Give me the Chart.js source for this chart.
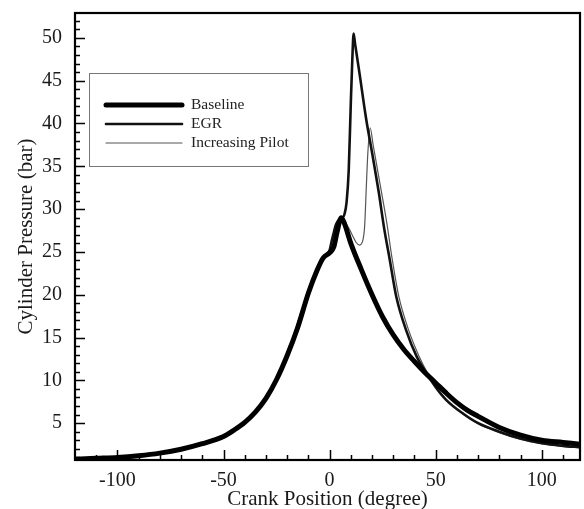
<!DOCTYPE html>
<html>
<head>
<meta charset="utf-8">
<script src="https://cdn.jsdelivr.net/npm/chart.js@4.4.0/dist/chart.umd.min.js"></script>
<style>
  html, body { margin: 0; padding: 0; background: #fff; }
  #wrap { width: 584px; height: 509px; position: relative; }
</style>
</head>
<body>
<div id="wrap"><canvas id="grafico"></canvas></div>
<script>
// crank angle (degree) and cylinder pressure (bar)
const crankBase = [-120, -110, -100, -90, -80, -70, -60, -50, -45, -40, -35, -30, -25, -20, -15, -10, -6, -3, 0, 2, 3.5, 5.5, 7, 10, 15, 20, 25, 30, 35, 40, 45, 50, 55, 60, 65, 70, 80, 90, 100, 110, 118];
const pressureBase = [0.8, 0.9, 1.0, 1.2, 1.5, 1.95, 2.6, 3.45, 4.2, 5.1, 6.3, 7.9, 10.1, 12.9, 16.2, 20.2, 22.8, 24.3, 24.9, 25.6, 27.3, 29.0, 28.3, 26.0, 22.9, 20.0, 17.4, 15.3, 13.6, 12.2, 10.9, 9.7, 8.5, 7.4, 6.5, 5.8, 4.5, 3.6, 3.0, 2.75, 2.55];

const crankEgr = [-120, -100, -80, -60, -50, -40, -30, -20, -10, -3, 0, 1, 2, 3, 4.5, 6, 7, 8, 9, 10, 10.7, 11.3, 12, 14, 17.3, 20, 23.2, 25.8, 28.2, 31.4, 36, 41, 46, 50, 55, 63, 70, 80, 90, 100, 110, 118];
const pressureEgr = [0.8, 1.0, 1.5, 2.6, 3.45, 5.1, 7.9, 12.9, 20.2, 24.3, 25.2, 26.3, 27.3, 28.2, 28.8, 29.0, 29.4, 30.8, 34.5, 42.5, 47.5, 50.5, 49.3, 46.0, 40.4, 36.6, 31.9, 27.6, 24.3, 19.8, 15.9, 12.8, 10.7, 9.2, 7.7, 6.1, 5.0, 4.0, 3.2, 2.65, 2.35, 2.2];

const crankPilot = [-120, -100, -80, -60, -50, -40, -30, -20, -10, -3, 0, 1, 2, 3, 4.5, 6.3, 8, 9.4, 11, 12.5, 14.1, 15.7, 16.5, 17.3, 18, 19.1, 20.5, 22, 25, 27, 29.4, 32.6, 37.2, 42.2, 46.5, 50, 55, 63, 70, 80, 90, 100, 110, 118];
const pressurePilot = [0.8, 1.0, 1.5, 2.6, 3.45, 5.1, 7.9, 12.9, 20.2, 24.3, 25.2, 26.3, 27.3, 28.2, 28.8, 29.0, 28.2, 27.6, 26.8, 26.1, 25.8, 26.4, 28.0, 32.6, 36.5, 39.5, 37.5, 35.4, 31.2, 28.3, 24.3, 19.8, 15.9, 12.8, 10.7, 9.3, 7.75, 6.05, 4.95, 3.9, 3.1, 2.6, 2.3, 2.1];

const xTicks = [-100, -50, 0, 50, 100];
const yTicks = [5, 10, 15, 20, 25, 30, 35, 40, 45, 50];

const xMinor = [];
for (let v = -110; v <= 110; v += 10) xMinor.push(v);
const yMinor = [];
for (let v = 1; v <= 52; v++) yMinor.push(v);

const pontos = (xs, ys) => xs.map((x, i) => ({ x: x, y: ys[i] }));

Chart.defaults.font.family = "'Liberation Serif', 'Times New Roman', serif";
Chart.defaults.color = "#1a1a1a";

// frame, inward ticks and the boxed legend
const moldura = {
    id: "moldura",
    afterDraw(chart) {
        const ctx = chart.ctx;
        const a = chart.chartArea;
        const sx = chart.scales.x, sy = chart.scales.y;
        ctx.save();
        ctx.strokeStyle = "#000";
        ctx.lineWidth = 1.5;
        ctx.beginPath();
        xMinor.forEach(v => {
            const px = Math.round(sx.getPixelForValue(v)) + 0.5;
            const len = xTicks.includes(v) ? 10 : 5;
            ctx.moveTo(px, a.bottom);
            ctx.lineTo(px, a.bottom - len);
        });
        yMinor.forEach(v => {
            const py = Math.round(sy.getPixelForValue(v)) + 0.5;
            const len = yTicks.includes(v) ? 10 : 5;
            ctx.moveTo(a.left, py);
            ctx.lineTo(a.left + len, py);
        });
        ctx.stroke();

        ctx.lineWidth = 2.2;
        ctx.strokeRect(a.left, a.top, a.right - a.left, a.bottom - a.top);

        // legend
        const lx = a.left + 14, ly = a.top + 60;
        ctx.fillStyle = "#fff";
        ctx.fillRect(lx, ly, 219, 93);
        ctx.lineWidth = 1;
        ctx.strokeStyle = "#777";
        ctx.strokeRect(lx + 0.5, ly + 0.5, 219, 93);
        ctx.font = "15.5px 'Liberation Serif', serif";
        ctx.textBaseline = "middle";
        ctx.fillStyle = "#222";
        chart.data.datasets.forEach((ds, i) => {
            const yy = ly + 32 + i * 19;
            ctx.beginPath();
            ctx.lineCap = "round";
            ctx.strokeStyle = ds.borderColor;
            ctx.lineWidth = ds.borderWidth;
            ctx.moveTo(lx + 17, yy);
            ctx.lineTo(lx + 93, yy);
            ctx.stroke();
            ctx.fillText(ds.label, lx + 102, yy);
        });
        ctx.restore();
    }
};

const ctx = document.getElementById("grafico").getContext("2d");
const grafico = new Chart(ctx, {
    type: "line",
    data: {
        datasets: [{
            label: "Baseline",
            data: pontos(crankBase, pressureBase),
            borderColor: "#000",
            borderWidth: 5
        }, {
            label: "EGR",
            data: pontos(crankEgr, pressureEgr),
            borderColor: "#111",
            borderWidth: 2.6
        }, {
            label: "Increasing Pilot",
            data: pontos(crankPilot, pressurePilot),
            borderColor: "#555",
            borderWidth: 1.2
        }]
    },
    options: {
        responsive: true,
        maintainAspectRatio: false,
        animation: false,
        layout: { padding: { top: 13, right: 4, left: 0, bottom: 0 } },
        elements: {
            point: { radius: 0 },
            line: { cubicInterpolationMode: "monotone", borderCapStyle: "round", borderJoinStyle: "round" }
        },
        plugins: { legend: { display: false }, tooltip: { enabled: false } },
        scales: {
            x: {
                type: "linear",
                min: -120,
                max: 118,
                afterBuildTicks: s => { s.ticks = xTicks.map(v => ({ value: v })); },
                afterFit: s => { s.height = 49; s.paddingLeft = 0; s.paddingRight = 0; },
                grid: { display: false, drawTicks: false },
                border: { display: false },
                ticks: { padding: 9, font: { size: 20 }, color: "#1a1a1a" },
                title: { display: true, text: "Crank Position (degree)", font: { size: 21 }, padding: { top: 0, bottom: -3 }, color: "#1a1a1a" }
            },
            y: {
                min: 0.7,
                max: 52.9,
                afterBuildTicks: s => { s.ticks = yTicks.map(v => ({ value: v })); },
                afterFit: s => { s.width = 75; s.paddingTop = 0; s.paddingBottom = 0; },
                grid: { display: false, drawTicks: false },
                border: { display: false },
                ticks: { padding: 13, font: { size: 20 }, color: "#1a1a1a" },
                title: { display: true, text: "Cylinder Pressure (bar)", font: { size: 21 }, padding: { top: 14, bottom: 0 }, color: "#1a1a1a" }
            }
        }
    },
    plugins: [moldura]
});
</script>
</body>
</html>
